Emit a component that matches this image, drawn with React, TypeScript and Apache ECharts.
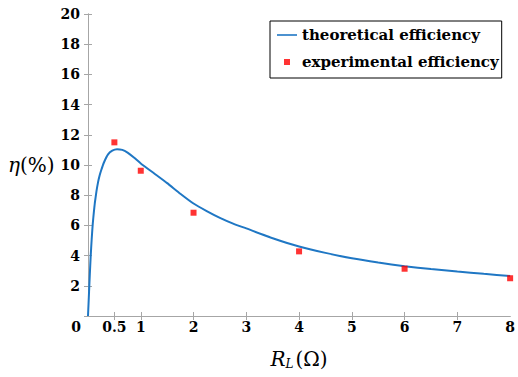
import React, { useEffect, useRef } from "react";
import * as echarts from "echarts";

const xTickValues = [0, 0.5, 1, 2, 3, 4, 5, 6, 7, 8];
const xInnerTicks = [0.5, 1, 2, 3, 4, 5, 6, 7];
const yMin = 0;
const yMax = 20;
const yStep = 2;

const theoryR = [0, 0.01, 0.02, 0.035, 0.05, 0.07, 0.09, 0.11, 0.13, 0.16, 0.19, 0.22, 0.25, 0.3, 0.38, 0.46, 0.55, 0.65, 0.75, 0.87, 1, 1.25, 1.5, 1.75, 2, 2.25, 2.5, 2.75, 3, 3.5, 4, 4.5, 5, 5.5, 6, 6.5, 7, 7.5, 8];
const theoryEta = [0, 0.8, 1.6, 2.8, 3.9, 5.1, 6.1, 6.85, 7.5, 8.25, 8.85, 9.3, 9.65, 10.15, 10.7, 10.95, 11.05, 11.0, 10.82, 10.5, 10.1, 9.45, 8.8, 8.1, 7.45, 6.95, 6.5, 6.12, 5.8, 5.15, 4.6, 4.18, 3.82, 3.54, 3.3, 3.11, 2.94, 2.79, 2.65];

const expR = [0.5, 1, 2, 4, 6, 8];
const expEta = [11.5, 9.62, 6.84, 4.28, 3.13, 2.5];

const seriesNames = ["theoretical efficiency", "experimental efficiency"];

const SERIF = "DejaVu Serif";
const FRAME = "#a6a6a6";

export default function App() {
  const ref = useRef<HTMLDivElement>(null);

  useEffect(() => {
    document.body.style.margin = "0";
    if (!ref.current) return;
    const chart = echarts.init(ref.current, null, { renderer: "svg" });

    const theoryData = theoryR.map((r, i) => [r, theoryEta[i]]);
    const expData = expR.map((r, i) => [r, expEta[i]]);

    const boldText = (size: number) => ({
      fontFamily: SERIF,
      fontWeight: "bold" as const,
      fontSize: size,
      color: "#000",
    });
    const labelStyle = boldText(14);

    chart.setOption({
      animation: false,
      backgroundColor: "#fff",
      textStyle: { fontFamily: SERIF },
      grid: { left: 88, top: 14, right: 6, bottom: 61, containLabel: false },
      legend: {
        left: 270,
        top: 21,
        orient: "vertical",
        backgroundColor: "#fff",
        borderColor: "#000",
        borderWidth: 1,
        padding: [6, 3, 8, 7],
        itemGap: 11,
        itemWidth: 20,
        itemHeight: 6,
        itemTextGap: 20,
        textStyle: { ...boldText(15), lineHeight: 16 },
        data: [
          { name: seriesNames[0], icon: "path://M0,0 L20,0 L20,1.6 L0,1.6 Z" },
          { name: seriesNames[1], icon: "path://M0,0 L6,0 L6,6 L0,6 Z" },
        ],
      },
      xAxis: [
        {
          type: "value",
          min: xTickValues[0],
          max: xTickValues[xTickValues.length - 1],
          position: "bottom",
          splitLine: { show: false },
          axisLine: { show: true, lineStyle: { color: FRAME, width: 1 } },
          axisTick: { show: true, inside: true, length: 4, customValues: xInnerTicks, lineStyle: { color: FRAME } },
          axisLabel: {
            customValues: xTickValues,
            margin: 4,
            ...labelStyle,
            formatter: (v: number) => (v === 0 ? "{z|0}" : String(v)),
            rich: { z: { ...labelStyle, padding: [0, 24, 0, 0] } },
          },
          name: "{i|R}{s|L}{n|(Ω)}",
          nameLocation: "middle",
          nameGap: 32,
          nameTextStyle: {
            fontFamily: SERIF,
            fontSize: 20,
            color: "#000",
            rich: {
              i: { fontFamily: SERIF, fontSize: 20, fontStyle: "italic", color: "#000" },
              s: { fontFamily: SERIF, fontSize: 12, fontStyle: "italic", color: "#000", padding: [10, 2, 0, 0] },
              n: { fontFamily: SERIF, fontSize: 20, color: "#000" },
            },
          },
        },
        {
          type: "value",
          min: xTickValues[0],
          max: xTickValues[xTickValues.length - 1],
          position: "top",
          splitLine: { show: false },
          axisLine: { show: true, lineStyle: { color: FRAME, width: 1 } },
          axisTick: { show: true, inside: true, length: 4, customValues: xInnerTicks, lineStyle: { color: FRAME } },
          axisLabel: { show: false },
        },
      ],
      yAxis: [
        {
          type: "value",
          min: yMin,
          max: yMax,
          interval: yStep,
          position: "left",
          splitLine: { show: false },
          axisLine: { show: true, lineStyle: { color: FRAME, width: 1 } },
          axisTick: { show: true, inside: true, length: 4, lineStyle: { color: FRAME } },
          axisLabel: {
            margin: 8,
            ...labelStyle,
            formatter: (v: number) => (v === 0 ? "" : String(v)),
          },
          name: "{i|η}{n|(%)}",
          nameLocation: "middle",
          nameRotate: 0,
          nameGap: 23,
          nameTextStyle: {
            fontFamily: SERIF,
            fontSize: 20,
            color: "#000",
            align: "right",
            rich: {
              i: { fontFamily: SERIF, fontSize: 20, fontStyle: "italic", color: "#000" },
              n: { fontFamily: SERIF, fontSize: 20, color: "#000" },
            },
          },
        },
        {
          type: "value",
          min: yMin,
          max: yMax,
          interval: yStep,
          position: "right",
          splitLine: { show: false },
          axisLine: { show: true, lineStyle: { color: FRAME, width: 1 } },
          axisTick: { show: true, inside: true, length: 4, lineStyle: { color: FRAME } },
          axisLabel: { show: false },
        },
      ],
      series: [
        {
          name: seriesNames[0],
          type: "line",
          data: theoryData,
          smooth: 0.15,
          symbol: "none",
          lineStyle: { color: "#1f77c4", width: 2 },
          itemStyle: { color: "#1f77c4" },
          z: 2,
        },
        {
          name: seriesNames[1],
          type: "scatter",
          data: expData,
          symbol: "rect",
          symbolSize: 6,
          clip: false,
          itemStyle: { color: "#ff0000" },
          z: 3,
        },
      ],
    });

    return () => chart.dispose();
  }, []);

  return <div ref={ref} style={{ width: 518, height: 377 }} />;
}
